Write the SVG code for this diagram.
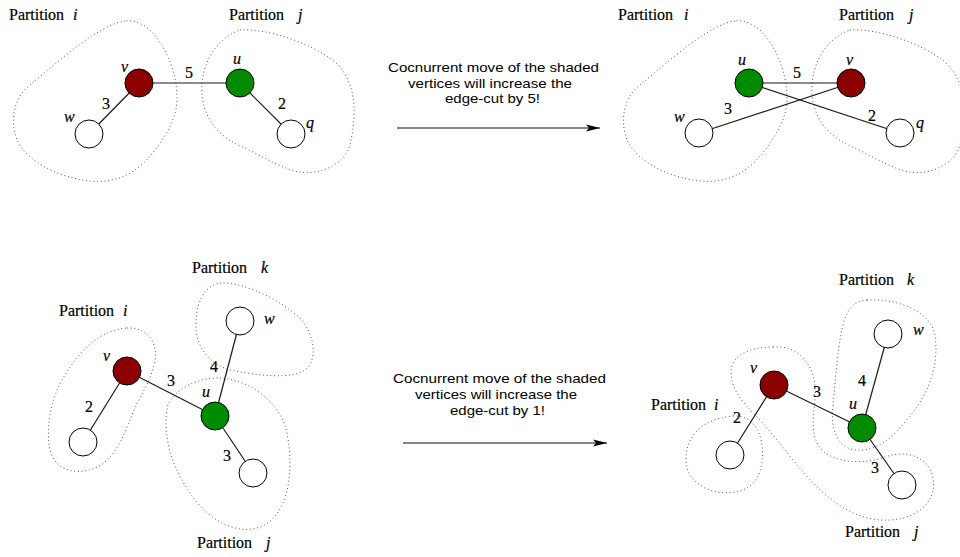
<svg xmlns="http://www.w3.org/2000/svg" width="960" height="557" viewBox="0 0 960 557">
  <defs>
    <style>
      .blob { fill: none; stroke: #444; stroke-width: 1; stroke-dasharray: 0.9 2.8; }
      .edge { stroke: #1a1a1a; stroke-width: 1.2; fill: none; }
      .arrow { stroke: #111; stroke-width: 1.1; fill: none; }
      .n { stroke: #000; stroke-width: 1; }
      .red { fill: #8b0000; }
      .green { fill: #008b00; }
      .white { fill: #fff; }
      text.lbl { font-family: "Liberation Serif", "Times New Roman", serif; font-size: 16px; fill: #000; stroke: #000; stroke-width: 0.2; }
      text.it { font-style: italic; }
      text.note { font-family: "Liberation Sans", Arial, sans-serif; font-size: 13.5px; fill: #000; }
    </style>
    <marker id="head" markerWidth="16" markerHeight="10" refX="14" refY="4" orient="auto" markerUnits="userSpaceOnUse">
      <path d="M0,0.6 L14,4 L0,7.4 L3,4 Z" fill="#000"/>
    </marker>
    <path id="blobI" class="blob" d="M125,21 C100,24 60,60 30,85 C12,98 10,125 18,142 C28,162 60,178 90,181 C120,184 140,170 155,150 C168,133 178,115 177,95 C176,70 165,45 150,30 C140,22 132,20 125,21 Z"/>
    <path id="blobJ" class="blob" d="M240,30 C265,28 310,42 335,62 C355,80 358,110 350,145 C344,165 320,175 300,172 C285,170 265,158 245,148 C225,140 205,125 202,95 C200,70 212,40 240,30 Z"/>
  </defs>

  <!-- partition outlines -->
  <g id="partitions">
    <use href="#blobI"/>
    <use href="#blobJ"/>
    <use href="#blobI" transform="translate(610,0)"/>
    <use href="#blobJ" transform="translate(610,0)"/>
    <path class="blob" d="M127,328 C145,327 158,340 155,360 C152,380 140,395 132,415 C124,435 115,460 95,468 C75,476 55,470 50,450 C45,425 52,395 65,375 C80,350 100,330 127,328 Z"/>
    <path class="blob" d="M220,283 C245,282 280,300 300,318 C315,335 318,360 305,370 C290,380 255,375 230,370 C212,365 198,350 196,330 C195,305 203,286 220,283 Z"/>
    <path class="blob" d="M220,378 C250,380 275,400 285,425 C292,450 293,490 278,512 C268,528 250,532 235,528 C215,523 195,505 182,480 C170,460 162,430 168,405 C175,388 200,377 220,378 Z"/>
    <path class="blob" d="M733,416 C750,415 760,428 762,445 C764,465 760,485 740,491 C720,496 700,490 690,475 C682,460 686,440 700,428 C710,420 722,417 733,416 Z"/>
    <path class="blob" d="M773,347 C795,345 812,360 815,385 C817,405 808,425 818,445 C828,462 860,466 885,457 C905,450 928,455 933,478 C937,500 920,518 890,520 C860,522 835,505 815,485 C795,465 775,435 755,415 C740,400 728,385 732,365 C738,352 755,347 773,347 Z"/>
    <path class="blob" d="M867,300 C895,298 930,310 935,335 C940,370 925,400 905,422 C890,440 875,452 855,450 C838,448 830,430 833,405 C836,375 838,340 845,318 C850,305 858,300 867,300 Z"/>
  </g>

  <!-- edges and arrows -->
  <g id="connectors">
    <line class="edge" x1="139" y1="83" x2="240" y2="83"/>
    <line class="edge" x1="139" y1="83" x2="89" y2="134"/>
    <line class="edge" x1="240" y1="83" x2="291" y2="134"/>

    <line class="edge" x1="749" y1="83" x2="851" y2="83"/>
    <line class="edge" x1="749" y1="83" x2="900" y2="133"/>
    <line class="edge" x1="851" y1="83" x2="699" y2="133"/>

    <line class="edge" x1="127" y1="371" x2="215" y2="416"/>
    <line class="edge" x1="127" y1="371" x2="83" y2="442"/>
    <line class="edge" x1="215" y1="416" x2="240" y2="321"/>
    <line class="edge" x1="215" y1="416" x2="253" y2="473"/>

    <line class="edge" x1="774" y1="385" x2="862" y2="428"/>
    <line class="edge" x1="774" y1="385" x2="730" y2="455"/>
    <line class="edge" x1="862" y1="428" x2="888" y2="334"/>
    <line class="edge" x1="862" y1="428" x2="902" y2="485"/>

    <line class="arrow" x1="397" y1="128" x2="600" y2="128" marker-end="url(#head)"/>
    <line class="arrow" x1="403" y1="443" x2="607" y2="443" marker-end="url(#head)"/>
  </g>

  <!-- vertices -->
  <g id="tl-v"><circle class="n red" cx="139" cy="83" r="14"/><text class="lbl it" x="121" y="72">v</text></g>
  <g id="tl-u"><circle class="n green" cx="240" cy="83" r="14"/><text class="lbl it" x="233" y="64">u</text></g>
  <g id="tl-w"><circle class="n white" cx="89" cy="134" r="14"/><text class="lbl it" x="64" y="122">w</text></g>
  <g id="tl-q"><circle class="n white" cx="291" cy="134" r="14"/><text class="lbl it" x="306" y="128">q</text></g>

  <g id="tr-u"><circle class="n green" cx="749" cy="83" r="14"/><text class="lbl it" x="738" y="65">u</text></g>
  <g id="tr-v"><circle class="n red" cx="851" cy="83" r="14"/><text class="lbl it" x="846" y="65">v</text></g>
  <g id="tr-w"><circle class="n white" cx="699" cy="133" r="14"/><text class="lbl it" x="674" y="122">w</text></g>
  <g id="tr-q"><circle class="n white" cx="900" cy="133" r="14"/><text class="lbl it" x="916" y="128">q</text></g>

  <g id="bl-v"><circle class="n red" cx="127" cy="371" r="14"/><text class="lbl it" x="103" y="361">v</text></g>
  <g id="bl-u"><circle class="n green" cx="215" cy="416" r="14"/><text class="lbl it" x="202" y="397">u</text></g>
  <g id="bl-w"><circle class="n white" cx="240" cy="321" r="14"/><text class="lbl it" x="264" y="324">w</text></g>
  <g id="bl-a"><circle class="n white" cx="83" cy="442" r="14"/></g>
  <g id="bl-b"><circle class="n white" cx="253" cy="473" r="14"/></g>

  <g id="br-v"><circle class="n red" cx="774" cy="385" r="14"/><text class="lbl it" x="750" y="373">v</text></g>
  <g id="br-u"><circle class="n green" cx="862" cy="428" r="14"/><text class="lbl it" x="849" y="409">u</text></g>
  <g id="br-w"><circle class="n white" cx="888" cy="334" r="14"/><text class="lbl it" x="913" y="335">w</text></g>
  <g id="br-a"><circle class="n white" cx="730" cy="455" r="14"/></g>
  <g id="br-b"><circle class="n white" cx="902" cy="485" r="14"/></g>

  <!-- edge weights -->
  <g id="weights">
    <text class="lbl" x="102" y="109">3</text>
    <text class="lbl" x="185" y="78">5</text>
    <text class="lbl" x="278" y="109">2</text>
    <text class="lbl" x="724" y="114">3</text>
    <text class="lbl" x="793" y="78">5</text>
    <text class="lbl" x="868" y="121">2</text>
    <text class="lbl" x="167" y="386">3</text>
    <text class="lbl" x="85" y="412">2</text>
    <text class="lbl" x="210" y="372">4</text>
    <text class="lbl" x="223" y="461">3</text>
    <text class="lbl" x="813" y="397">3</text>
    <text class="lbl" x="733" y="423">2</text>
    <text class="lbl" x="858" y="386">4</text>
    <text class="lbl" x="871" y="473">3</text>
  </g>

  <!-- partition names -->
  <g id="partition-labels">
    <text class="lbl" x="9" y="20">Partition</text><text class="lbl it" x="73" y="20">i</text>
    <text class="lbl" x="229" y="20">Partition</text><text class="lbl it" x="298" y="20">j</text>
    <text class="lbl" x="618" y="20">Partition</text><text class="lbl it" x="684" y="20">i</text>
    <text class="lbl" x="839" y="20">Partition</text><text class="lbl it" x="909" y="20">j</text>
    <text class="lbl" x="192" y="273">Partition</text><text class="lbl it" x="261" y="273">k</text>
    <text class="lbl" x="59" y="316">Partition</text><text class="lbl it" x="123" y="316">i</text>
    <text class="lbl" x="197" y="548">Partition</text><text class="lbl it" x="266" y="548">j</text>
    <text class="lbl" x="839" y="285">Partition</text><text class="lbl it" x="907" y="285">k</text>
    <text class="lbl" x="651" y="410">Partition</text><text class="lbl it" x="714" y="410">i</text>
    <text class="lbl" x="845" y="537">Partition</text><text class="lbl it" x="914" y="537">j</text>
  </g>

  <!-- captions -->
  <g id="caption-top">
    <text class="note" x="388" y="72" textLength="211" lengthAdjust="spacingAndGlyphs">Cocnurrent move of the shaded</text>
    <text class="note" x="408" y="87.5" textLength="164" lengthAdjust="spacingAndGlyphs">vertices will increase the</text>
    <text class="note" x="445" y="103" textLength="95" lengthAdjust="spacingAndGlyphs">edge-cut by 5!</text>
  </g>
  <g id="caption-bottom">
    <text class="note" x="393" y="383" textLength="213" lengthAdjust="spacingAndGlyphs">Cocnurrent move of the shaded</text>
    <text class="note" x="415" y="399" textLength="162" lengthAdjust="spacingAndGlyphs">vertices will increase the</text>
    <text class="note" x="450" y="415" textLength="95" lengthAdjust="spacingAndGlyphs">edge-cut by 1!</text>
  </g>
</svg>
